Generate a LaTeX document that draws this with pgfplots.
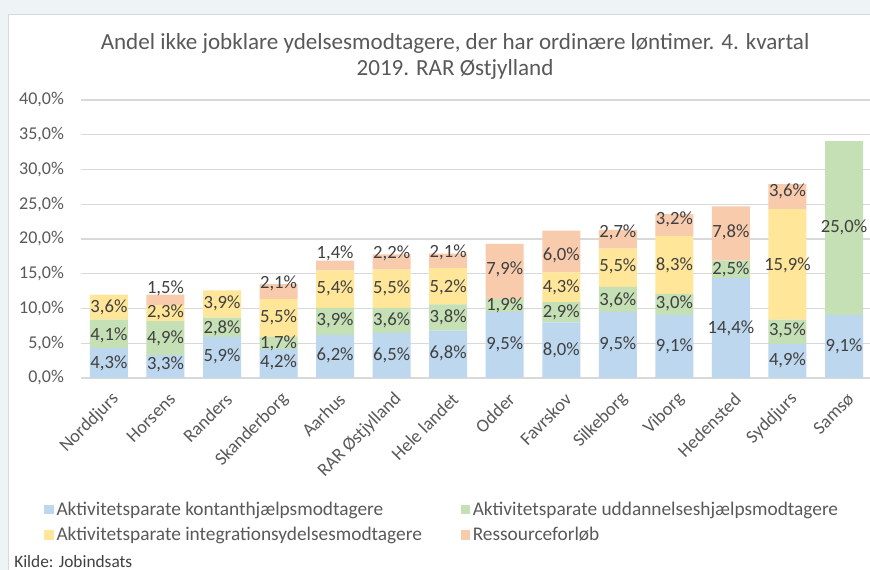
\documentclass[border=0pt]{standalone}
\usepackage{pgfplots}
\pgfplotsset{compat=1.18}
\usepackage{fontspec}
\setmainfont{Carlito}
\definecolor{cblue}{RGB}{189,215,238}
\definecolor{cgreen}{RGB}{197,224,180}
\definecolor{cyellow}{RGB}{255,230,153}
\definecolor{corange}{RGB}{248,203,173}
\definecolor{txtgray}{RGB}{89,89,89}
\definecolor{lblgray}{RGB}{64,64,64}
\definecolor{gridgray}{RGB}{217,217,217}
\definecolor{bgband}{RGB}{238,243,245}
\begin{document}
\begin{tikzpicture}
\path[use as bounding box] (0pt,0pt) rectangle (652.5pt,427.5pt);
\fill[bgband] (0pt,0pt) rectangle (652.5pt,427.5pt);
\fill[white] (6pt,0pt) rectangle (652.5pt,417pt);
\draw[gridgray,line width=0.6pt] (6pt,0pt) -- (6pt,417pt) -- (652.5pt,417pt);
\node[align=center,font=\fontsize{17.3}{19.5}\selectfont,text=txtgray] at (341.25pt,385pt)
  {Andel ikke jobklare ydelsesmodtagere, der har ordinære løntimer. 4. kvartal\\2019. RAR Østjylland};
\node[anchor=west,font=\fontsize{13}{14}\selectfont,text=lblgray,inner sep=0pt] at (10.5pt,6.5pt) {Kilde: Jobindsats};
\begin{axis}[
  at={(60.5pt,144pt)}, anchor=south west,
  scale only axis, width=593.7pt, height=208.5pt,
  xmin=-0.5, xmax=13.5, ymin=0, ymax=40,
  ybar stacked, bar width=28.5pt,
  axis line style={draw=none},
  tick style={draw=none},
  ymajorgrids, grid style={draw=gridgray,line width=0.9pt},
  ytick={0,5,...,40},
  xtick={0,...,13},
  xticklabels={Norddjurs,Horsens,Randers,Skanderborg,Aarhus,RAR Østjylland,Hele landet,Odder,Favrskov,Silkeborg,Viborg,Hedensted,Syddjurs,Samsø},
  /pgf/number format/assume math mode=true,
  yticklabel={\pgfmathprintnumber[fixed,fixed zerofill,precision=1,use comma]{\tick}\%},
  yticklabel style={font=\fontsize{13.5}{15}\selectfont,text=txtgray,xshift=-9pt},
  xticklabel shift=13pt,
  xticklabel style={font=\fontsize{13.8}{15}\selectfont,text=txtgray,xshift=6pt,rotate=45,anchor=east,inner sep=1pt},
  legend style={at={(axis description cs:-0.0514,-0.425)},anchor=north west,draw=none,fill=none,
    font=\fontsize{14.5}{17}\selectfont,text=txtgray,row sep=3.5pt,
    /tikz/every even column/.append style={column sep=27pt}},
  legend columns=2, legend cell align=left,
  legend image code/.code={\fill[#1] (0pt,-3.6pt) rectangle (7.2pt,3.6pt);},
]
\addplot[fill=cblue,draw=none] coordinates {(0,4.3)(1,3.3)(2,5.9)(3,4.2)(4,6.2)(5,6.5)(6,6.8)(7,9.5)(8,8.0)(9,9.5)(10,9.1)(11,14.4)(12,4.9)(13,9.1)};
\addplot[fill=cgreen,draw=none] coordinates {(0,4.1)(1,4.9)(2,2.8)(3,1.7)(4,3.9)(5,3.6)(6,3.8)(7,1.9)(8,2.9)(9,3.6)(10,3.0)(11,2.5)(12,3.5)(13,25.0)};
\addplot[fill=cyellow,draw=none] coordinates {(0,3.6)(1,2.3)(2,3.9)(3,5.5)(4,5.4)(5,5.5)(6,5.2)(7,0)(8,4.3)(9,5.5)(10,8.3)(11,0)(12,15.9)(13,0)};
\addplot[fill=corange,draw=none] coordinates {(0,0)(1,1.5)(2,0)(3,2.1)(4,1.4)(5,2.2)(6,2.1)(7,7.9)(8,6.0)(9,2.7)(10,3.2)(11,7.8)(12,3.6)(13,0)};
\legend{Aktivitetsparate kontanthjælpsmodtagere,Aktivitetsparate uddannelseshjælpsmodtagere,Aktivitetsparate integrationsydelsesmodtagere,Ressourceforløb}
\end{axis}
\begin{axis}[
  at={(60.5pt,144pt)}, anchor=south west,
  scale only axis, width=593.7pt, height=208.5pt,
  xmin=-0.5, xmax=13.5, ymin=0, ymax=40,
  hide axis, clip=false,
  /pgf/number format/assume math mode=true,
]
\addplot[draw=none, mark=none, point meta=explicit,
  nodes near coords={\pgfmathprintnumber[fixed,fixed zerofill,precision=1,use comma]{\pgfplotspointmeta}\%},
  every node near coord/.append style={anchor=center,font=\fontsize{14}{15}\selectfont,text=lblgray,inner sep=0pt}]
table[x=x,y=y,meta=v] {
x y v
0 2.1 4.3
0 6.2 4.1
0 10.2 3.6
1 1.9 3.3
1 5.7 4.9
1 9.4 2.3
1 12.9 1.5
2 3.1 5.9
2 7.2 2.8
2 10.7 3.9
3 2.3 4.2
3 5.0 1.7
3 8.7 5.5
3 13.6 2.1
4 3.3 6.2
4 8.3 3.9
4 12.9 5.4
4 17.9 1.4
5 3.3 6.5
5 8.3 3.6
5 12.9 5.5
5 17.9 2.2
6 3.6 6.8
6 8.7 3.8
6 13.1 5.2
6 18.1 2.1
7 4.8 9.5
7 10.5 1.9
7 15.7 7.9
8 4.0 8.0
8 9.5 2.9
8 13.1 4.3
8 17.6 6.0
9 4.8 9.5
9 11.2 3.6
9 16.0 5.5
9 21.0 2.7
10 4.5 9.1
10 10.7 3.0
10 16.2 8.3
10 22.9 3.2
11 7.1 14.4
11 15.7 2.5
11 21.0 7.8
12 2.6 4.9
12 6.8 3.5
12 16.2 15.9
12 26.9 3.6
13 4.5 9.1
13 21.7 25.0
};
\end{axis}
\end{tikzpicture}
\end{document}
